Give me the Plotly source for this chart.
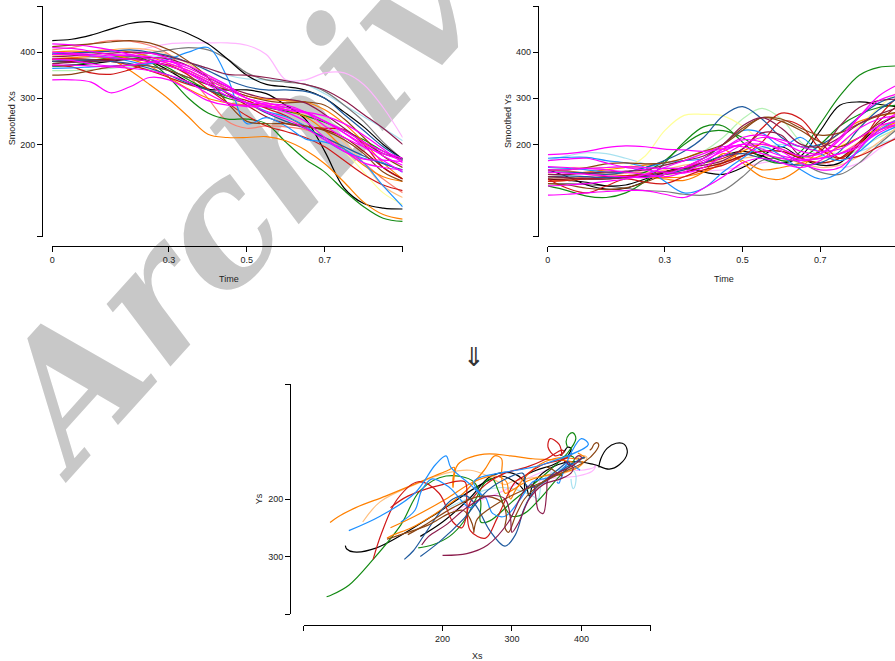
import plotly.graph_objects as go

# Time grid shared by every smoothed curve
time = [0.0, 0.05, 0.1, 0.15, 0.2, 0.25, 0.3, 0.35, 0.4, 0.45,
        0.5, 0.55, 0.6, 0.65, 0.7, 0.75, 0.8, 0.85, 0.9]

# Smoothed X / Y trajectories, one pair of lists per curve
xs_black1 = [425, 428, 437, 450, 462, 466, 455, 440, 418, 385, 350, 330, 325, 318, 300, 270, 238, 200, 168]
ys_black1 = [145, 130, 112, 103, 105, 120, 140, 148, 140, 135, 150, 175, 195, 170, 155, 160, 200, 240, 265]
xs_black2 = [370, 372, 375, 380, 385, 380, 360, 335, 320, 318, 318, 310, 285, 255, 185, 105, 72, 62, 60]
ys_black2 = [125, 122, 118, 110, 112, 125, 140, 150, 160, 175, 185, 175, 160, 175, 230, 285, 292, 287, 281]
xs_green1 = [380, 378, 382, 388, 392, 380, 345, 300, 268, 255, 255, 245, 205, 168, 140, 100, 65, 40, 33]
ys_green1 = [110, 100, 88, 85, 95, 120, 160, 205, 238, 240, 205, 170, 160, 185, 245, 305, 350, 367, 370]
xs_green2 = [370, 372, 378, 385, 390, 385, 365, 340, 318, 300, 290, 280, 272, 262, 248, 230, 210, 185, 165]
ys_green2 = [130, 128, 125, 125, 130, 140, 165, 200, 225, 230, 215, 185, 165, 170, 200, 240, 265, 280, 285]
xs_orange1 = [385, 388, 390, 385, 360, 330, 298, 260, 222, 215, 215, 217, 208, 188, 158, 118, 75, 48, 38]
ys_orange1 = [145, 142, 138, 135, 132, 130, 125, 122, 140, 180, 165, 145, 150, 160, 175, 195, 215, 232, 241]
xs_orange2 = [400, 402, 400, 395, 385, 370, 345, 320, 300, 290, 285, 285, 275, 260, 230, 190, 155, 130, 120]
ys_orange2 = [135, 135, 140, 145, 150, 155, 160, 170, 185, 190, 160, 130, 125, 150, 190, 225, 250, 262, 268]
xs_orange3 = [395, 398, 402, 405, 400, 390, 375, 360, 340, 320, 305, 298, 295, 292, 275, 245, 205, 160, 125]
ys_orange3 = [120, 122, 125, 128, 130, 130, 128, 130, 140, 160, 185, 200, 190, 170, 160, 170, 200, 230, 250]
xs_red1 = [372, 368, 355, 352, 362, 375, 372, 350, 320, 290, 262, 240, 228, 215, 195, 165, 135, 112, 100]
ys_red1 = [125, 105, 95, 110, 125, 118, 115, 130, 145, 155, 175, 205, 250, 240, 190, 170, 200, 260, 305]
xs_red2 = [385, 386, 384, 380, 372, 360, 345, 330, 318, 305, 295, 278, 262, 240, 235, 232, 200, 150, 125]
ys_red2 = [120, 122, 125, 128, 132, 135, 140, 150, 160, 170, 190, 235, 268, 255, 205, 170, 175, 195, 215]
xs_blue1 = [365, 366, 368, 370, 372, 375, 385, 400, 410, 345, 245, 258, 240, 212, 205, 190, 160, 110, 65]
ys_blue1 = [170, 172, 172, 165, 160, 150, 120, 95, 105, 140, 170, 195, 175, 145, 125, 140, 190, 230, 255]
xs_blue2 = [398, 396, 392, 388, 380, 370, 360, 345, 330, 312, 290, 272, 260, 240, 210, 185, 170, 160, 140]
ys_blue2 = [150, 148, 145, 140, 140, 150, 160, 165, 170, 200, 230, 225, 195, 215, 180, 165, 185, 220, 240]
xs_steel1 = [380, 382, 383, 380, 375, 365, 350, 332, 318, 305, 290, 268, 250, 235, 215, 195, 175, 158, 145]
ys_steel1 = [140, 140, 138, 135, 140, 150, 165, 185, 215, 262, 282, 255, 215, 195, 200, 225, 260, 290, 305]
xs_steel2 = [395, 398, 400, 402, 405, 400, 392, 378, 360, 340, 325, 318, 318, 315, 300, 265, 230, 195, 168]
ys_steel2 = [130, 132, 130, 128, 128, 130, 135, 145, 160, 175, 180, 170, 160, 155, 160, 185, 235, 275, 300]
xs_brown1 = [412, 415, 418, 422, 425, 420, 405, 380, 345, 290, 250, 245, 245, 240, 230, 210, 180, 140, 120]
ys_brown1 = [115, 112, 105, 102, 106, 118, 135, 150, 170, 200, 235, 258, 255, 235, 220, 225, 245, 262, 270]
xs_brown2 = [350, 352, 360, 368, 372, 370, 360, 345, 330, 318, 305, 295, 290, 292, 285, 255, 215, 175, 150]
ys_brown2 = [145, 145, 150, 158, 160, 158, 160, 170, 185, 200, 230, 258, 250, 230, 205, 195, 215, 245, 262]
xs_maroon1 = [390, 392, 395, 398, 400, 398, 390, 378, 365, 352, 350, 345, 338, 330, 318, 295, 265, 235, 200]
ys_maroon1 = [130, 128, 125, 125, 128, 132, 140, 148, 155, 165, 190, 225, 220, 175, 185, 240, 280, 295, 298]
xs_maroon2 = [375, 378, 380, 382, 385, 388, 385, 370, 345, 325, 310, 300, 298, 290, 265, 235, 205, 180, 170]
ys_maroon2 = [135, 135, 138, 140, 142, 145, 155, 165, 175, 200, 240, 258, 235, 200, 195, 215, 245, 265, 280]
xs_plum = [395, 392, 390, 392, 400, 410, 418, 420, 420, 420, 415, 395, 340, 340, 355, 355, 330, 280, 215]
ys_plum = [150, 150, 150, 150, 150, 148, 145, 140, 142, 145, 152, 160, 168, 175, 165, 150, 160, 190, 220]
xs_lightblue = [385, 386, 388, 390, 392, 392, 388, 378, 365, 350, 342, 340, 338, 330, 310, 285, 260, 235, 208]
ys_lightblue = [165, 175, 182, 180, 170, 158, 150, 148, 150, 160, 175, 190, 200, 195, 185, 180, 185, 200, 215]
xs_peach = [392, 395, 400, 405, 408, 405, 395, 375, 350, 320, 300, 290, 280, 265, 240, 205, 160, 110, 85]
ys_peach = [130, 128, 125, 125, 128, 135, 145, 155, 160, 165, 170, 175, 170, 160, 150, 155, 175, 205, 240]
xs_magenta1 = [340, 340, 335, 312, 325, 345, 340, 318, 295, 285, 285, 282, 270, 250, 215, 185, 160, 150, 145]
ys_magenta1 = [90, 92, 95, 98, 100, 100, 92, 85, 105, 130, 160, 170, 160, 150, 165, 200, 235, 255, 262]
xs_magenta2 = [418, 416, 412, 405, 395, 385, 375, 360, 340, 320, 300, 290, 280, 270, 250, 225, 200, 175, 155]
ys_magenta2 = [178, 180, 185, 193, 197, 195, 190, 188, 185, 190, 200, 200, 190, 175, 180, 215, 260, 295, 310]
xs_magenta3 = [410, 408, 402, 395, 392, 390, 380, 365, 345, 325, 300, 285, 275, 270, 262, 245, 220, 190, 160]
ys_magenta3 = [165, 168, 170, 160, 150, 145, 140, 138, 150, 175, 200, 215, 210, 195, 185, 190, 215, 240, 250]
xs_magenta4 = [400, 398, 395, 392, 395, 398, 385, 355, 330, 305, 290, 288, 285, 270, 240, 215, 195, 180, 165]
ys_magenta4 = [152, 150, 148, 145, 140, 135, 130, 140, 160, 190, 215, 220, 205, 185, 180, 210, 260, 305, 330]
xs_magenta5 = [385, 382, 375, 370, 372, 378, 380, 370, 350, 328, 300, 285, 275, 268, 250, 225, 195, 165, 140]
ys_magenta5 = [140, 138, 135, 132, 130, 128, 135, 150, 170, 190, 210, 205, 185, 160, 145, 150, 190, 240, 270]
xs_magenta6 = [372, 372, 370, 368, 365, 360, 350, 335, 310, 290, 282, 282, 280, 270, 250, 230, 205, 185, 170]
ys_magenta6 = [110, 112, 115, 120, 125, 135, 150, 165, 180, 195, 195, 180, 170, 165, 170, 180, 195, 230, 245]
xs_magenta7 = [395, 395, 392, 388, 385, 380, 370, 355, 335, 312, 290, 270, 255, 235, 210, 185, 168, 166, 163]
ys_magenta7 = [145, 145, 148, 150, 152, 150, 148, 150, 165, 185, 200, 190, 175, 168, 170, 180, 200, 225, 245]
xs_grey = [385, 385, 384, 385, 390, 398, 405, 410, 405, 385, 355, 340, 335, 330, 315, 285, 250, 205, 168]
ys_grey = [115, 115, 113, 110, 105, 100, 98, 92, 90, 100, 130, 165, 170, 160, 140, 135, 160, 200, 235]
xs_salmon = [405, 410, 418, 425, 424, 415, 395, 350, 300, 250, 235, 240, 238, 232, 215, 190, 160, 125, 95]
ys_salmon = [120, 125, 130, 135, 138, 140, 142, 145, 150, 160, 175, 185, 185, 175, 170, 180, 205, 235, 255]
xs_lightgreen = [360, 360, 362, 365, 368, 362, 350, 335, 320, 305, 290, 282, 278, 270, 255, 230, 205, 175, 150]
ys_lightgreen = [145, 148, 150, 150, 150, 150, 155, 165, 185, 215, 255, 278, 255, 205, 175, 170, 190, 215, 235]
xs_yellow = [380, 382, 383, 385, 385, 378, 362, 340, 320, 300, 285, 270, 255, 240, 215, 185, 140, 95, 70]
ys_yellow = [150, 150, 150, 148, 150, 175, 230, 263, 265, 262, 240, 205, 175, 160, 165, 195, 240, 280, 315]
xs_darkred = [380, 380, 382, 385, 385, 380, 370, 355, 335, 310, 285, 260, 245, 238, 232, 215, 185, 150, 125]
ys_darkred = [125, 125, 127, 130, 130, 132, 135, 140, 150, 160, 175, 185, 185, 170, 160, 170, 205, 250, 285]

# Axis tick labels
time_ticks = [0, 0.3, 0.5, 0.7, 0.9]
time_labels = ["0", "0.3", "0.5", "0.7", ""]
value_ticks = [0, 200, 300, 400, 500]
value_labels = ["", "200", "300", "400", ""]
path_y_ticks = [0, 200, 300, 400]
path_y_labels = ["", "200", "300", ""]

# Line colours
C = {
    "black": "#000000", "green": "#138A13", "orange": "#FF8000", "red": "#D01818",
    "blue": "#1E90FF", "steel": "#1F5A9E", "brown": "#8B4513", "maroon": "#8B1C4C",
    "plum": "#FFB5FF", "lightblue": "#A8E2F0", "peach": "#FFC080", "magenta": "#FF00FF",
    "grey": "#7A7A7A", "salmon": "#FA8072", "lightgreen": "#B4F0B4", "yellow": "#FFFF99",
    "darkred": "#A01010",
}

# (x series, y series, colour, also drawn in the X-Y path panel)
curves = [
    (xs_plum, ys_plum, C["plum"], True),
    (xs_lightblue, ys_lightblue, C["lightblue"], True),
    (xs_lightgreen, ys_lightgreen, C["lightgreen"], False),
    (xs_yellow, ys_yellow, C["yellow"], False),
    (xs_peach, ys_peach, C["peach"], True),
    (xs_salmon, ys_salmon, C["salmon"], False),
    (xs_grey, ys_grey, C["grey"], False),
    (xs_black1, ys_black1, C["black"], True),
    (xs_black2, ys_black2, C["black"], True),
    (xs_green1, ys_green1, C["green"], True),
    (xs_green2, ys_green2, C["green"], True),
    (xs_orange1, ys_orange1, C["orange"], True),
    (xs_orange2, ys_orange2, C["orange"], True),
    (xs_orange3, ys_orange3, C["orange"], True),
    (xs_red1, ys_red1, C["red"], True),
    (xs_red2, ys_red2, C["red"], True),
    (xs_darkred, ys_darkred, C["darkred"], False),
    (xs_blue1, ys_blue1, C["blue"], True),
    (xs_blue2, ys_blue2, C["blue"], True),
    (xs_steel1, ys_steel1, C["steel"], True),
    (xs_steel2, ys_steel2, C["steel"], True),
    (xs_brown1, ys_brown1, C["brown"], True),
    (xs_brown2, ys_brown2, C["brown"], True),
    (xs_maroon1, ys_maroon1, C["maroon"], True),
    (xs_maroon2, ys_maroon2, C["maroon"], True),
    (xs_magenta1, ys_magenta1, C["magenta"], False),
    (xs_magenta2, ys_magenta2, C["magenta"], False),
    (xs_magenta3, ys_magenta3, C["magenta"], False),
    (xs_magenta4, ys_magenta4, C["magenta"], False),
    (xs_magenta5, ys_magenta5, C["magenta"], False),
    (xs_magenta6, ys_magenta6, C["magenta"], False),
    (xs_magenta7, ys_magenta7, C["magenta"], False),
]

W, H = 895, 661
FONT = "Liberation Sans"
SERIF = "DejaVu Serif, Liberation Serif, serif"


def px(x):
    return x / W


def py(y):
    return 1 - y / H


fig = go.Figure()
line_w = 1.2
for xs, ys, col, in_path in curves:
    fig.add_trace(go.Scatter(x=time, y=xs, mode="lines", xaxis="x", yaxis="y",
                             line=dict(color=col, width=line_w, shape="spline", smoothing=1.0),
                             hoverinfo="skip"))
    fig.add_trace(go.Scatter(x=time, y=ys, mode="lines", xaxis="x2", yaxis="y2",
                             line=dict(color=col, width=line_w, shape="spline", smoothing=1.0),
                             hoverinfo="skip"))
for xs, ys, col, in_path in curves:
    if in_path:
        fig.add_trace(go.Scatter(x=xs, y=ys, mode="lines", xaxis="x3", yaxis="y3",
                                 line=dict(color=col, width=line_w, shape="spline", smoothing=1.0),
                                 hoverinfo="skip"))

axis_common = dict(showgrid=False, zeroline=False, showline=True, linecolor="#000000",
                   linewidth=1, ticks="outside", ticklen=5, tickwidth=1, tickcolor="#000000",
                   tickfont=dict(family=FONT, size=9, color="#222222"), anchor="free",
                   fixedrange=True)

xline_top = py(245.7)
ydom_top = [py(236.7), py(6)]

fig.update_layout(
    width=W, height=H, margin=dict(l=0, r=0, t=0, b=0),
    font=dict(family=FONT),
    paper_bgcolor="white", plot_bgcolor="rgba(0,0,0,0)", showlegend=False,
    xaxis=dict(domain=[px(49.3), px(401)], range=[0, 0.9], tickvals=time_ticks,
               ticktext=time_labels, position=xline_top, **axis_common),
    yaxis=dict(domain=ydom_top, range=[0, 500], tickvals=value_ticks,
               ticktext=value_labels, position=px(39.3), **axis_common),
    xaxis2=dict(domain=[px(546.7), 1.0], range=[0, (W - 546.7) / 390.6],
                tickvals=time_ticks, ticktext=time_labels, position=xline_top, **axis_common),
    yaxis2=dict(domain=ydom_top, range=[0, 500], tickvals=value_ticks,
                ticktext=value_labels, position=px(536.7), **axis_common),
    xaxis3=dict(domain=[px(301.7), px(650)], range=[0, 500], tickvals=value_ticks,
                ticktext=value_labels, position=py(625), **axis_common),
    yaxis3=dict(domain=[py(614), py(384)], range=[400, 0], tickvals=path_y_ticks,
                ticktext=path_y_labels, position=px(288), **axis_common),
)

# Watermark, drawn beneath the curves
fig.add_shape(type="rect", xref="paper", yref="paper",
              x0=px(254), x1=px(274), y0=py(165), y1=py(145),
              line=dict(width=0), fillcolor="rgba(0,0,0,0)", layer="below",
              label=dict(text="Archive", textangle=-48, textposition="middle center",
                         font=dict(family=SERIF, size=172, color="#C8C8C8",
                                   weight="bold", style="italic")))

titles = [
    ("Smoothed Xs", 9.3, 118, -90),
    ("Smoothed Ys", 506.7, 121, -90),
    ("Time", 227, 279, 0),
    ("Time", 723, 279, 0),
    ("Xs", 476, 656, 0),
    ("Ys", 257, 499, -90),
]
for text, x, y, ang in titles:
    fig.add_annotation(text=text, x=px(x), y=py(y), xref="paper", yref="paper",
                       showarrow=False, textangle=ang, xanchor="center", yanchor="middle",
                       font=dict(family=FONT, size=9, color="#222222"))

fig.add_annotation(text="\u21d3", x=px(473), y=py(357), xref="paper", yref="paper",
                   showarrow=False, xanchor="center", yanchor="middle",
                   font=dict(family="DejaVu Sans", size=26, color="#333333"))

fig.write_html("out.html")
